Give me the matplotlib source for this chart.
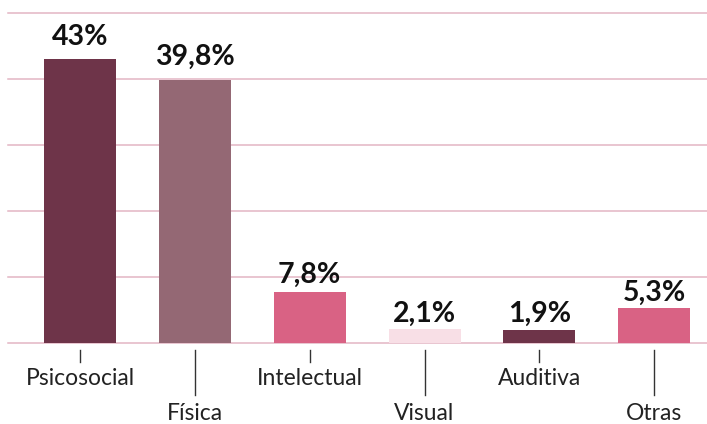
import matplotlib
matplotlib.use("Agg")
import matplotlib.pyplot as plt
from matplotlib.transforms import blended_transform_factory

categories = ["Psicosocial", "Física", "Intelectual", "Visual", "Auditiva", "Otras"]
values = [43.0, 39.8, 7.8, 2.1, 1.9, 5.3]
value_labels = ["43%", "39,8%", "7,8%", "2,1%", "1,9%", "5,3%"]
y_ticks = [0, 10, 20, 30, 40, 50]

bar_colors = ["#6e3449", "#946874", "#d96284", "#f8dfe6", "#6e3449", "#d96284"]
label_offsets = [10, 11, 6, 5, 6, 5]  # points above each bar
grid_color = "#e3b5c3"

plt.rcParams["font.family"] = ["Lato", "DejaVu Sans"]

fig = plt.figure(figsize=(7.07, 4.24), dpi=100)
ax = fig.add_axes([8 / 707, 81 / 424, 699 / 707, 330 / 424])

x_pos = list(range(len(categories)))
bars = ax.bar(x_pos, values, width=0.627, color=bar_colors, zorder=3)

ax.set_xlim(-0.627, 5.46)
ax.set_ylim(0, 50)

for y in y_ticks:
    ax.axhline(y, color=grid_color, linewidth=1.1, zorder=1, clip_on=False)

for rect, text, offset in zip(bars, value_labels, label_offsets):
    ax.annotate(
        text,
        (rect.get_x() + rect.get_width() / 2, rect.get_height()),
        xytext=(0, offset),
        textcoords="offset points",
        ha="center",
        va="baseline",
        fontsize=20.5,
        fontweight="bold",
        color="#111111",
    )

# alternating short / long ticks with staggered category labels
trans = blended_transform_factory(ax.transData, ax.transAxes)
for i, name in enumerate(categories):
    if i % 2 == 0:
        tick_end, label_y = -0.058, -0.108
    else:
        tick_end, label_y = -0.158, -0.214
    ax.plot([i, i], [-0.021, tick_end], color="#333333", linewidth=1.0,
            transform=trans, clip_on=False)
    ax.text(i, label_y, name, transform=trans, ha="center", va="center",
            fontsize=16.5, color="#222222")

ax.set_xticks([])
ax.set_yticks([])
for spine in ax.spines.values():
    spine.set_visible(False)

fig.savefig("out.png", dpi=100)
